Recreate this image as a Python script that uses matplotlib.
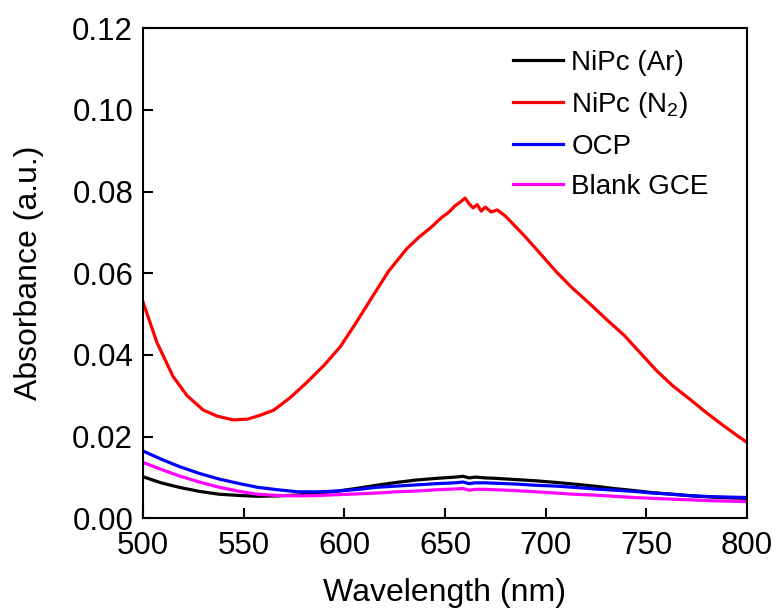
import matplotlib
matplotlib.use('Agg')
import matplotlib.pyplot as plt

plt.rcParams['font.family'] = ['Liberation Sans', 'DejaVu Sans']
plt.rcParams['mathtext.fontset'] = 'custom'
plt.rcParams['mathtext.rm'] = 'Liberation Sans'
plt.rcParams['mathtext.it'] = 'Liberation Sans'

# NiPc (N2), red
wl_red = [500, 507, 515, 522, 530, 537, 545, 552, 558, 565, 573, 581, 590, 598,
          606, 614, 622, 631, 637, 643, 648, 652, 655, 658, 660, 662, 664, 666,
          668, 670, 673, 676, 680, 689, 697, 705, 713, 722, 730, 739, 747, 755,
          763, 772, 780, 788, 795, 800]
ab_red = [0.0530, 0.0430, 0.0347, 0.0300, 0.0265, 0.0250, 0.0241, 0.0243, 0.0252,
          0.0265, 0.0295, 0.0331, 0.0375, 0.0420, 0.0480, 0.0543, 0.0605, 0.0660,
          0.0688, 0.0712, 0.0735, 0.0750, 0.0765, 0.0776, 0.0784, 0.0770, 0.0760,
          0.0768, 0.0752, 0.0762, 0.0750, 0.0755, 0.0740, 0.0694, 0.0650, 0.0605,
          0.0565, 0.0525, 0.0488, 0.0448, 0.0405, 0.0362, 0.0325, 0.0290, 0.0258,
          0.0228, 0.0203, 0.0186]

# the three low curves share the same wavelength points
wl_low = [500, 509, 518, 528, 538, 548, 557, 567, 577, 587, 597, 607, 616, 626,
          636, 646, 655, 659, 662, 665, 670, 675, 685, 695, 705, 714, 724, 734,
          744, 753, 763, 773, 783, 792, 800]
ab_ar = [0.0102, 0.0087, 0.0076, 0.0066, 0.0059, 0.0056, 0.0054, 0.0055, 0.0057,
         0.0062, 0.0067, 0.0074, 0.0081, 0.0088, 0.0094, 0.0098, 0.0101, 0.0103,
         0.0099, 0.0101, 0.0099, 0.0098, 0.0095, 0.0092, 0.0088, 0.0084, 0.0079,
         0.0073, 0.0068, 0.0063, 0.0059, 0.0055, 0.0052, 0.0050, 0.0049]
ab_ocp = [0.0165, 0.0145, 0.0127, 0.0110, 0.0096, 0.0085, 0.0076, 0.0070, 0.0065,
          0.0065, 0.0067, 0.0071, 0.0076, 0.0079, 0.0082, 0.0085, 0.0087, 0.0089,
          0.0085, 0.0087, 0.0087, 0.0086, 0.0084, 0.0081, 0.0079, 0.0076, 0.0072,
          0.0069, 0.0066, 0.0062, 0.0059, 0.0055, 0.0053, 0.0052, 0.0051]
ab_gce = [0.0137, 0.0120, 0.0104, 0.0089, 0.0076, 0.0066, 0.0059, 0.0056, 0.0055,
          0.0056, 0.0058, 0.0060, 0.0062, 0.0065, 0.0067, 0.0070, 0.0072, 0.0073,
          0.0069, 0.0071, 0.0071, 0.0070, 0.0068, 0.0065, 0.0062, 0.0059, 0.0057,
          0.0054, 0.0051, 0.0049, 0.0047, 0.0045, 0.0043, 0.0042, 0.0041]

fig = plt.figure(figsize=(7.81, 6.12), dpi=100)
ax = fig.add_axes([0.183, 0.153, 0.7735, 0.801])

lw = 2.3
ax.plot(wl_low, ab_ar, color='black', lw=lw, label='NiPc (Ar)')
ax.plot(wl_red, ab_red, color='#ff0000', lw=lw, label='NiPc (N$_\\mathregular{2}$)')
ax.plot(wl_low, ab_ocp, color='#0000ff', lw=lw, label='OCP')
ax.plot(wl_low, ab_gce, color='#ff00ff', lw=lw, label='Blank GCE')

ax.set_xlim(500, 800)
ax.set_ylim(0, 0.12)
ax.set_xticks([500, 550, 600, 650, 700, 750, 800])
ax.set_yticks([0.00, 0.02, 0.04, 0.06, 0.08, 0.10, 0.12])
ax.set_yticklabels(['0.00', '0.02', '0.04', '0.06', '0.08', '0.10', '0.12'])
ax.tick_params(direction='in', length=7, width=1.5, labelsize=22.5)
ax.tick_params(axis='x', pad=9)
ax.tick_params(axis='y', pad=7)
for s in ax.spines.values():
    s.set_linewidth(1.5)

ax.set_xlabel('Wavelength (nm)', fontsize=23, labelpad=12)
ax.set_ylabel('Absorbance (a.u.)', fontsize=23, labelpad=20)

ax.legend(loc='upper left', bbox_to_anchor=(513 / 781, 1 - 50 / 612),
          bbox_transform=fig.transFigure, frameon=False, borderpad=0,
          borderaxespad=0, fontsize=20, handlelength=1.8, handletextpad=0.3,
          labelspacing=0.5)

fig.savefig('out.png', dpi=100)
